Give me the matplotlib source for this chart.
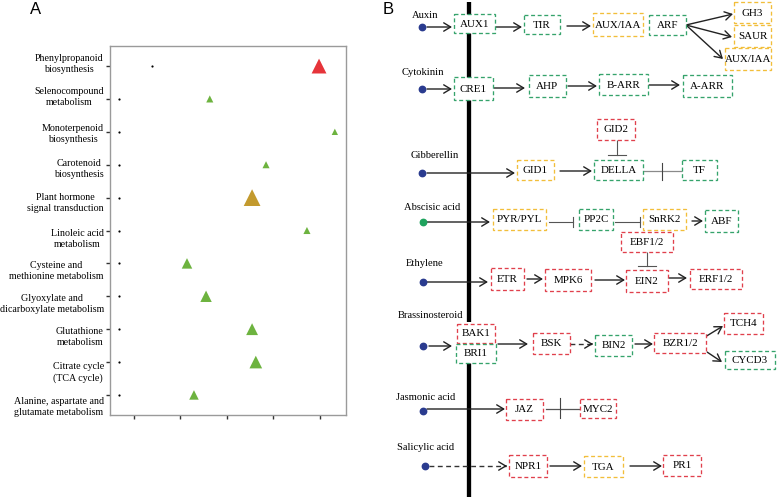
import matplotlib
matplotlib.use("Agg")
import matplotlib.pyplot as plt
from matplotlib.patches import Rectangle
import matplotlib.transforms as mtransforms

# ---------------- Panel A data ----------------
pathways = [
    "Phenylpropanoid\nbiosynthesis",
    "Selenocompound\nmetabolism",
    "Monoterpenoid\nbiosynthesis",
    "Carotenoid\nbiosynthesis",
    "Plant hormone\nsignal transduction",
    "Linoleic acid\nmetabolism",
    "Cysteine and\nmethionine metabolism",
    "Glyoxylate and\ndicarboxylate metabolism",
    "Glutathione\nmetabolism",
    "Citrate cycle\n(TCA cycle)",
    "Alanine, aspartate and\nglutamate metabolism",
]
rich_factor = [0.498, 0.263, 0.532, 0.384, 0.354, 0.472, 0.214, 0.255, 0.354, 0.362, 0.229]
gene_number = [22, 5, 4, 5, 28, 5, 11, 13, 14, 16, 9]
significance = ["high", "low", "low", "low", "mid", "low", "low", "low", "low", "low", "low"]
dot_value = [0.139, 0.068, 0.068, 0.068, 0.068, 0.068, 0.068, 0.068, 0.068, 0.068, 0.068]
x_ticks = [0.1, 0.2, 0.3, 0.4, 0.5]

sig_colors = {"high": "#E6343A", "mid": "#C39A2E", "low": "#6DB33F"}
# vertical nudge (pixels, positive = down) of each tick label, layout only
label_nudge_px = [-4, -4, 0, 2, 3, 6, 6, 6, 6, 8, 10]

W, H = 777, 499
fig = plt.figure(figsize=(W / 100, H / 100), dpi=100)

serif = ["Liberation Serif", "DejaVu Serif"]
sans = ["Liberation Sans", "DejaVu Sans"]

# ---------------- Panel A ----------------
axA = fig.add_axes([110 / W, 1 - 415 / H, 236 / W, 369 / H])
ypos = list(range(len(pathways)))
axA.scatter(rich_factor, ypos, marker="^", s=[g * 5.2 for g in gene_number],
            c=[sig_colors[s] for s in significance], linewidths=0, zorder=3)
axA.scatter(dot_value, ypos, marker="o", s=2.5, c="black", linewidths=0, zorder=3)
axA.set_xlim(0.0484, 0.556)
axA.set_ylim(len(pathways) - 1 + 0.61, -0.61)
axA.set_xticks(x_ticks)
axA.set_xticklabels([])
axA.set_yticks(ypos)
axA.set_yticklabels(pathways, fontsize=7.2, family=serif, ha="right",
                    multialignment="center", linespacing=1.3)
axA.tick_params(axis="both", direction="out", length=3, width=1, color="#333333", pad=1.5)
for sp in axA.spines.values():
    sp.set_color("#9a9a9a")
    sp.set_linewidth(1.0)
for lab, nud in zip(axA.get_yticklabels(), label_nudge_px):
    off = mtransforms.ScaledTranslation(0, -nud / 100, fig.dpi_scale_trans)
    lab.set_transform(lab.get_transform() + off)

fig.text(36 / W, 1 - 10 / H, "A", fontsize=12, family=sans, ha="center", va="center")
fig.text(388 / W, 1 - 10 / H, "B", fontsize=12, family=sans, ha="center", va="center")

# ---------------- Panel B (pathway diagram) ----------------
axB = fig.add_axes([0, 0, 1, 1], zorder=-1)
axB.set_xlim(0, W)
axB.set_ylim(H, 0)
axB.axis("off")

box_colors = {"g": "#35A36B", "y": "#F2BE3A", "r": "#E0404C"}

hormones = ["Auxin", "Cytokinin", "Gibberellin", "Abscisic acid", "Ethylene",
            "Brassinosteroid", "Jasmonic acid", "Salicylic acid"]
hormone_dot_colors = ["#2A3B8F", "#2A3B8F", "#2A3B8F", "#1FA35E", "#2A3B8F",
                      "#2A3B8F", "#2A3B8F", "#2A3B8F"]
# layout: label centre, dot centre
hormone_label_xy = [(425, 15), (423, 72), (435, 156), (432, 207), (425, 264),
                    (430, 316), (426, 397), (426, 447)]
hormone_dot_xy = [(422, 27), (422, 89), (422, 173), (423, 222), (423, 282),
                  (423, 346), (423, 411), (425, 466)]

# gene boxes: name, colour class, layout x0, x1, y0, y1
nodes = [
    ("AUX1", "g", 454, 495, 14, 33),
    ("TIR", "g", 524, 560, 15, 34),
    ("AUX/IAA", "y", 593, 643, 13, 36),
    ("ARF", "g", 649, 686, 15, 35),
    ("GH3", "y", 734, 771, 2, 23),
    ("SAUR", "y", 734, 771, 25, 47),
    ("AUX/IAA", "y", 725, 771, 48, 70),
    ("CRE1", "g", 454, 493, 77, 100),
    ("AHP", "g", 529, 566, 75, 97),
    ("B-ARR", "g", 599, 648, 74, 95),
    ("A-ARR", "g", 683, 732, 75, 97),
    ("GID2", "r", 597, 635, 119, 140),
    ("GID1", "y", 517, 554, 160, 180),
    ("DELLA", "g", 594, 643, 160, 180),
    ("TF", "g", 682, 717, 160, 180),
    ("PYR/PYL", "y", 493, 546, 209, 230),
    ("PP2C", "g", 579, 613, 209, 230),
    ("SnRK2", "y", 643, 686, 209, 230),
    ("ABF", "g", 705, 738, 210, 232),
    ("EBF1/2", "r", 621, 673, 232, 252),
    ("ETR", "r", 491, 524, 268, 290),
    ("MPK6", "r", 545, 591, 269, 291),
    ("EIN2", "r", 626, 668, 270, 292),
    ("ERF1/2", "r", 690, 742, 269, 289),
    ("TCH4", "r", 724, 763, 313, 334),
    ("BAK1", "r", 457, 495, 324, 343),
    ("BRI1", "g", 456, 496, 344, 363),
    ("BSK", "r", 533, 570, 333, 354),
    ("BIN2", "g", 595, 632, 335, 356),
    ("BZR1/2", "r", 654, 706, 333, 353),
    ("CYCD3", "g", 725, 775, 351, 369),
    ("JAZ", "r", 506, 543, 399, 420),
    ("MYC2", "r", 580, 616, 399, 418),
    ("NPR1", "r", 509, 547, 455, 477),
    ("TGA", "y", 584, 623, 456, 477),
    ("PR1", "r", 663, 701, 455, 476),
]

# membrane (thick line), interrupted by BAK1/BRI1
axB.plot([469, 469], [2, 322], color="black", lw=3.1, solid_capstyle="butt")
axB.plot([469, 469], [363, 497], color="black", lw=3.1, solid_capstyle="butt")

for name, c, x0, x1, y0, y1 in nodes:
    axB.add_patch(Rectangle((x0, y0), x1 - x0, y1 - y0, fill=True, facecolor="white",
                            edgecolor=box_colors[c], lw=0.95, linestyle=(0, (3, 2)),
                            zorder=3))
    axB.text((x0 + x1) / 2, (y0 + y1) / 2 + 0.5, name, ha="center", va="center",
             fontsize=7.9, family=serif, zorder=4)

for lab, (lx, ly) in zip(hormones, hormone_label_xy):
    axB.text(lx, ly, lab, ha="center", va="center", fontsize=7.6, family=serif)
for col, (dx, dy) in zip(hormone_dot_colors, hormone_dot_xy):
    axB.plot(dx, dy, "o", ms=4.6, color=col, mec=col, zorder=5)

AST = "->,head_length=0.5,head_width=0.3"


def arrow(p0, p1, dashed=False):
    if dashed:
        axB.plot([p0[0], p1[0] - 1], [p0[1], p1[1]], color="#333333", lw=1.0,
                 linestyle=(0, (3.5, 2.5)), zorder=2)
        axB.annotate("", xy=p1, xytext=(p1[0] - 2, p1[1]),
                     arrowprops=dict(arrowstyle=AST, lw=1.0, color="#222222",
                                     shrinkA=0, shrinkB=0), zorder=2)
    else:
        axB.annotate("", xy=p1, xytext=p0,
                     arrowprops=dict(arrowstyle=AST, lw=1.0, color="#222222",
                                     shrinkA=0, shrinkB=0), zorder=2)


def inhibit_h(x0, x1, y, bar=5, color="#555555"):
    axB.plot([x0, x1], [y, y], color=color, lw=0.8, zorder=2)
    axB.plot([x1, x1], [y - bar, y + bar], color=color, lw=0.8, zorder=2)


def inhibit_v(x, y0, y1, bar=9, color="#555555"):
    axB.plot([x, x], [y0, y1], color=color, lw=0.8, zorder=2)
    axB.plot([x - bar, x + bar], [y1, y1], color=color, lw=0.8, zorder=2)


def cross_h(x0, x1, y, xc, ya, yb, color="#666666"):
    axB.plot([x0, x1], [y, y], color=color, lw=0.9, zorder=2)
    axB.plot([xc, xc], [ya, yb], color="#444444", lw=0.8, zorder=2)


# Auxin
arrow((427, 27), (452, 27))
arrow((496, 27), (522, 27))
arrow((567, 26), (591, 26))
arrow((686, 25), (733, 14))
arrow((686, 25), (732, 37))
arrow((686, 25), (723, 59))
# Cytokinin
arrow((427, 89), (452, 89))
arrow((494, 88), (525, 88))
arrow((568, 86), (597, 86))
arrow((649, 85), (680, 85))
# Gibberellin
arrow((427, 173), (515, 173))
arrow((560, 171), (592, 171))
inhibit_v(617, 140, 155)
cross_h(643, 682, 171, 662, 163, 180, color="#8a8a8a")
# Abscisic acid
arrow((427, 222), (490, 222))
inhibit_h(549, 573, 222)
inhibit_h(615, 640, 222)
arrow((692, 221), (703, 221))
# Ethylene
inhibit_v(647, 252, 266)
arrow((427, 282), (488, 282))
arrow((527, 279), (543, 279))
arrow((595, 280), (625, 280))
arrow((669, 278), (687, 278))
# Brassinosteroid
arrow((429, 346), (452, 346))
arrow((498, 344), (528, 344))
arrow((570, 344), (593, 344), dashed=True)
arrow((635, 344), (653, 344))
arrow((705, 337), (723, 326))
arrow((707, 352), (722, 362))
# Jasmonic acid
arrow((427, 409), (505, 409))
cross_h(546, 579, 409, 560, 398, 418, color="#555555")
# Salicylic acid
arrow((429, 466), (507, 466), dashed=True)
arrow((550, 466), (582, 466))
arrow((630, 466), (662, 466))

fig.savefig("out.png", dpi=100, facecolor="white")
